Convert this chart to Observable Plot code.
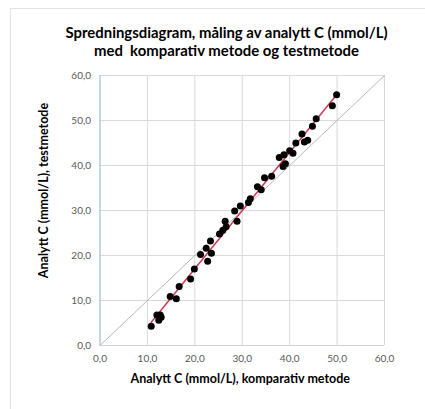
<!DOCTYPE html>
<html>
<head>
<meta charset="utf-8">
<script src="https://cdn.jsdelivr.net/npm/d3@7"></script>
<script src="https://cdn.jsdelivr.net/npm/@observablehq/plot@0.6"></script>
<style>
  html, body { margin: 0; padding: 0; background: #fff; }
  #wrap { position: relative; width: 425px; height: 409px; overflow: hidden; }
  #frame { position: absolute; left: 10px; top: 8px; width: 460px; height: 420px; border: 1px solid #e3e3e3; box-sizing: border-box; }
  #title { position: absolute; left: 10px; top: 23px; width: 433px; text-align: center;
           font-family: Lato, sans-serif; font-weight: bold; font-size: 14.9px; line-height: 18px; color: #000; }
  #chart { position: absolute; left: 0; top: 60px; }
</style>
</head>
<body>
<div id="wrap">
  <div id="frame"></div>
  <div id="title">Spredningsdiagram, måling av analytt C (mmol/L)<br>med&nbsp; komparativ metode og testmetode</div>
  <div id="chart"></div>
</div>
<script>
const comparative = [10.8, 12.0, 12.7, 12.4, 12.9, 14.8, 16.1, 16.7, 19.1, 19.9, 21.2, 22.4, 22.7, 23.3, 23.5,
  25.2, 25.9, 26.4, 26.6, 28.4, 28.9, 29.6, 31.3, 31.7, 33.2, 34.0, 34.7, 36.2, 37.8, 38.6, 39.1, 38.8,
  40.0, 40.7, 41.3, 42.6, 43.1, 43.8, 44.8, 45.6, 49.0, 49.9];
const testMethod = [4.3, 6.8, 6.8, 5.6, 6.3, 10.9, 10.4, 13.1, 14.8, 17.0, 20.2, 21.6, 18.7, 23.2, 20.5,
  24.8, 25.6, 27.6, 26.4, 29.9, 27.6, 31.0, 31.8, 32.6, 35.3, 34.6, 37.3, 37.6, 41.8, 39.8, 40.4, 42.4,
  43.3, 42.7, 45.0, 47.0, 45.2, 45.6, 48.7, 50.4, 53.3, 55.7];
const axisTicks = [0, 10, 20, 30, 40, 50, 60];
const identityLine = [0, 60];
const xLabel = "Analytt C (mmol/L), komparativ metode";
const yLabel = "Analytt C (mmol/L), testmetode";

const data = comparative.map((x, i) => ({x, y: testMethod[i]}));
const fmt = d => d.toFixed(1).replace(".", ",");

const chart = Plot.plot({
  width: 425,
  height: 349,
  marginLeft: 99.5,
  marginRight: 41,
  marginTop: 15,
  marginBottom: 64,
  style: {fontFamily: "Lato, sans-serif", fontSize: "10px", color: "#595959", background: "transparent", overflow: "visible"},
  x: {domain: [0, 60]},
  y: {domain: [0, 60]},
  marks: [
    Plot.gridX(axisTicks, {stroke: "#d9d9d9", strokeOpacity: 1}),
    Plot.gridY(axisTicks, {stroke: "#d9d9d9", strokeOpacity: 1}),
    Plot.ruleY([0], {stroke: "#d0d0d0"}),
    Plot.ruleX([0], {stroke: "#9dc3e6"}),
    Plot.axisX(axisTicks, {tickSize: 0, tickPadding: 9, tickFormat: fmt, label: null, fill: "#595959"}),
    Plot.axisY(axisTicks, {tickSize: 0, tickPadding: 9, tickFormat: fmt, label: null, fill: "#595959"}),
    Plot.line(identityLine, {x: d => d, y: d => d, stroke: "#b8b8b8", strokeWidth: 1}),
    Plot.linearRegressionY(data, {x: "x", y: "y", stroke: "#d2385a", strokeWidth: 1.5, ci: 0}),
    Plot.dot(data, {x: "x", y: "y", r: 3.5, fill: "#000", stroke: "none"}),
    Plot.text([xLabel], {frameAnchor: "bottom", dy: 37, dx: -2, fontWeight: "bold", fontSize: 12.5, fill: "#000"}),
    Plot.text([yLabel], {frameAnchor: "left", textAnchor: "middle", rotate: -90, dx: -56.5, dy: -20, fontWeight: "bold", fontSize: 12.5, fill: "#000"})
  ]
});
document.getElementById("chart").appendChild(chart);
</script>
</body>
</html>
